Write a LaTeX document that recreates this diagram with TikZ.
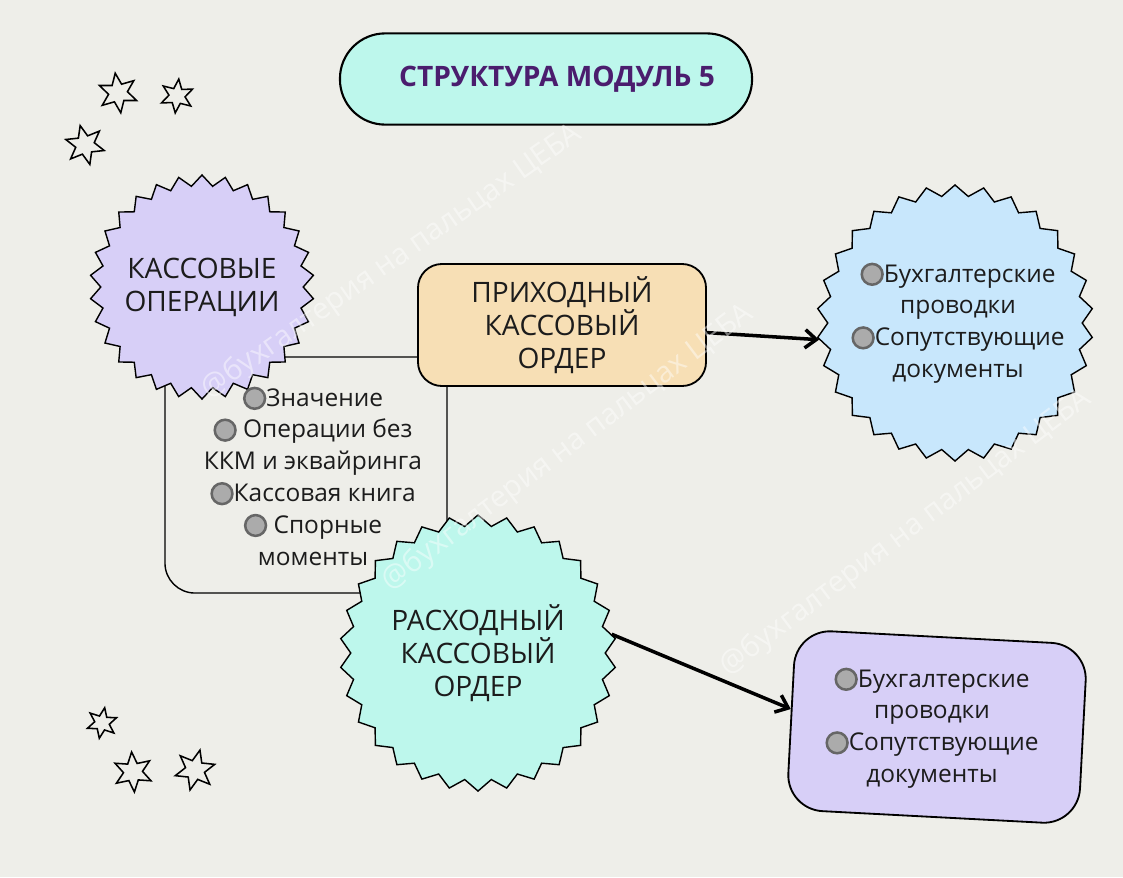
\documentclass[tikz,border=0pt]{standalone}
\usepackage{fontspec}
\setmainfont{Open Sans}
\usetikzlibrary{shapes.symbols,shapes.geometric,arrows.meta}
\definecolor{bgcol}{HTML}{EEEEE9}
\definecolor{mint}{HTML}{BDF7EC}
\definecolor{lilac}{HTML}{D7CFF7}
\definecolor{sky}{HTML}{C8E7FC}
\definecolor{sand}{HTML}{F7DFB5}
\definecolor{plum}{HTML}{4B1D6E}
\definecolor{ink}{HTML}{1C1C1C}
\newcommand{\dotb}{\tikz[baseline=-0.6ex]\draw[draw=black!60,line width=1.8pt,fill=black!33] (0,0) circle (7.4pt);}

\tikzset{
	burst/.style={starburst, starburst points=30, starburst point height=0.27cm, random starburst=0, draw=black, line width=1pt, inner sep=0pt},
	bursttext/.style={align=center, text=ink, inner sep=0pt, font=\fontsize{20}{23.5}\selectfont},
	roundbox/.style={rectangle, draw=black, line width=1.3pt, align=center, text=ink},
	listtext/.style={align=center, text=ink, inner sep=0pt, font=\fontsize{17.4}{22.6}\selectfont},
	spark/.style={star, star points=6, star point ratio=2.1, draw=black, line width=1.1pt, fill=bgcol, inner sep=0pt},
	arr/.style={line width=2.5pt, -{Straight Barb[length=8pt,width=13pt]}},
	wmark/.style={text=white, opacity=0.45, font=\fontsize{21}{21}\selectfont, inner sep=0pt}
}

\begin{document}
\begin{tikzpicture}[x=0.025cm, y=-0.025cm]
	\fill[bgcol] (0,0) rectangle (1123,877);
	\useasboundingbox (0,0) rectangle (1123,877);

	% title
	\node[roundbox, fill=mint, line width=1.5pt, rounded corners=1.13cm, minimum width=10.3cm, minimum height=2.28cm, text=plum, font=\fontsize{20}{20}\selectfont\bfseries] (title) at (546,79) {\hspace*{0.55cm}СТРУКТУРА МОДУЛЬ 5};

	% stars
	\foreach \x/\y/\s/\a [count=\i] in {118/93/40/8, 177/96/34/-6, 85/145/40/14, 102/723/31/-10, 133/772/40/4, 195/770/41/-14}
		\node[spark, minimum size=\s*0.025cm, rotate=\a] (star\i) at (\x,\y) {};

	% frame under the bursts
	\node[roundbox, line width=1pt, rounded corners=0.75cm, minimum width=7.05cm, minimum height=5.9cm] (opsframe) at (306,475) {};

	\node[burst, fill=lilac, minimum size=5.6cm] (ops) at (202,287) {};
	\node[roundbox, fill=sand, rounded corners=0.6cm, minimum width=7.2cm, minimum height=3.05cm, font=\fontsize{20}{23.5}\selectfont] (prihod) at (562,325) {ПРИХОДНЫЙ\\КАССОВЫЙ\\ОРДЕР};
	\node[burst, fill=sky, minimum size=6.9cm] (prov1) at (955,323) {};
	\node[burst, fill=mint, minimum size=6.9cm] (rashod) at (478,653) {};
	\node[roundbox, fill=lilac, rounded corners=0.9cm, minimum width=7.3cm, minimum height=4.5cm, rotate=-3] (prov2) at (937,727) {};

	% texts
	\node[bursttext] (opsname) at (ops) {КАССОВЫЕ\\ОПЕРАЦИИ};
	\node[bursttext] (rashodname) at (478,653) {РАСХОДНЫЙ\\КАССОВЫЙ\\ОРДЕР};
	\node[listtext] (opslist) at (313,476) {\dotb Значение\\ \dotb\ Операции без\\ККМ и эквайринга\\ \dotb Кассовая книга\\ \dotb\ Спорные\\моменты};
	\node[listtext] (prov1list) at (958,323) {\dotb Бухгалтерские\\проводки\\ \dotb Сопутствующие\\документы};
	\node[listtext] (prov2list) at (932,728) {\dotb Бухгалтерские\\проводки\\ \dotb Сопутствующие\\документы};

	% arrows
	\draw[arr] (prihod.-3) -- (prov1.187);
	\draw[arr] (rashod.8) -- (prov2.176);

	% watermark
	\node[wmark, rotate=35] (wm1) at (392,262) {@бухгалтерия на пальцах ЦЕБА};
	\node[wmark, rotate=37] (wm2) at (568,448) {@бухгалтерия на пальцах ЦЕБА};
	\node[wmark, rotate=37] (wm3) at (906,533) {@бухгалтерия на пальцах ЦЕБА};
\end{tikzpicture}
\end{document}
